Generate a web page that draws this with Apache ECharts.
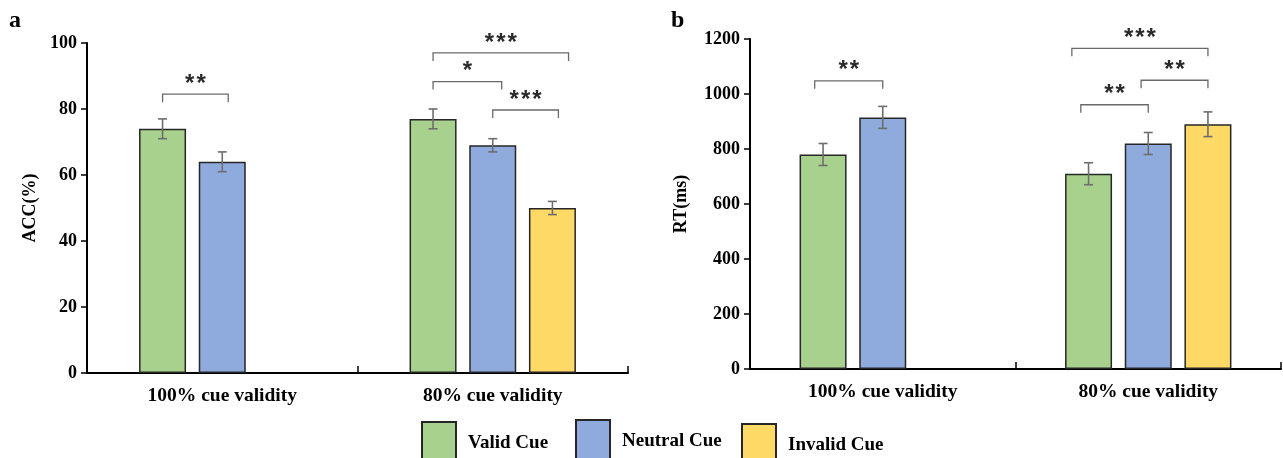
<!DOCTYPE html>
<html>
<head>
<meta charset="utf-8">
<script src="https://cdn.jsdelivr.net/npm/echarts@6/dist/echarts.min.js"></script>
<style>html,body{margin:0;padding:0;background:#fff}#c{width:1283px;height:458px}</style>
</head>
<body>
<div id="c"></div>
<script>
// ---------- data ----------
const categories = ['100% cue validity', '80% cue validity'];
const seriesNames = ['Valid Cue', 'Neutral Cue', 'Invalid Cue'];

const accValid = [74, 77];
const accNeutral = [64, 69];
const accInvalid = [null, 50];
const accValidErr = [3, 3];
const accNeutralErr = [3, 2];
const accInvalidErr = [null, 2];

const rtValid = [780, 710];
const rtNeutral = [915, 820];
const rtInvalid = [null, 890];
const rtValidErr = [40, 40];
const rtNeutralErr = [40, 40];
const rtInvalidErr = [null, 45];

const accTicks = [0, 20, 40, 60, 80, 100];
const rtTicks = [0, 200, 400, 600, 800, 1000, 1200];

// significance brackets: [category, fromBar, toBar, yValue, label]
const accBrackets = [
  [0, 0, 1.1, 84.5, '**'],
  [1, 0, 2.27, 97, '***'],
  [1, 0, 1.15, 88.3, '*'],
  [1, 1, 2.1, 79.7, '***']
];
const rtBrackets = [
  [0, -0.14, 1.0, 1048, '**'],
  [1, -0.28, 2.0, 1166, '***'],
  [1, 0.88, 2.0, 1050, '**'],
  [1, -0.13, 1.0, 961, '**']
];

// ---------- style ----------
const colors = ['#A9D18E', '#8FAADC', '#FFD966'];
const BAR_W = 47;
const GAP_PCT = 27;
const SLOT = BAR_W * (1 + GAP_PCT / 100);
const serif = '"Liberation Serif", "Times New Roman", serif';

function toSeries(arr) { return arr.map(v => v == null ? '-' : v); }

function errData(vals, errs) {
  const out = [];
  vals.forEach((arr, s) => arr.forEach((v, i) => {
    if (v != null) out.push([i, v, errs[s][i], s]);
  }));
  return out;
}

function errRender(params, api) {
  const cat = api.value(0), v = api.value(1), e = api.value(2), s = api.value(3);
  const c = api.coord([cat, v]);
  const x = c[0] + (s - 1) * SLOT;
  const yt = api.coord([cat, v + e])[1];
  const yb = api.coord([cat, v - e])[1];
  const st = { stroke: '#6e6e6e', lineWidth: 1.6 };
  const h = 4.5;
  return {
    type: 'group',
    children: [
      { type: 'line', shape: { x1: x, y1: yt, x2: x, y2: yb }, style: st },
      { type: 'line', shape: { x1: x - h, y1: yt, x2: x + h, y2: yt }, style: st },
      { type: 'line', shape: { x1: x - h, y1: yb, x2: x + h, y2: yb }, style: st }
    ]
  };
}

function bracketRender(list) {
  return function (params, api) {
    const b = list[params.dataIndex];
    const c = api.coord([b[0], b[3]]);
    const x1 = c[0] + (b[1] - 1) * SLOT;
    const x2 = c[0] + (b[2] - 1) * SLOT;
    const y = c[1];
    const leg = 8;
    const text = b[4].split('').join('\u200A');
    return {
      type: 'group',
      children: [
        { type: 'polyline', shape: { points: [[x1, y + leg], [x1, y], [x2, y], [x2, y + leg]] },
          style: { stroke: '#6a6a6a', lineWidth: 1.3, fill: null } },
        { type: 'text', x: (x1 + x2) / 2, y: y + 2,
          style: { text: text, font: 'bold 24px "Liberation Sans", Arial, sans-serif', fill: '#2a2a2a',
                   align: 'center', verticalAlign: 'bottom' } }
      ]
    };
  };
}

function yAxis(gridIndex, ticks, name, nameGap) {
  return {
    type: 'value', gridIndex: gridIndex,
    min: ticks[0], max: ticks[ticks.length - 1], interval: ticks[1] - ticks[0],
    name: name, nameLocation: 'middle', nameGap: nameGap, nameRotate: 90,
    nameTextStyle: { fontFamily: serif, fontWeight: 'bold', fontSize: 18, color: '#000' },
    axisLine: { show: true, lineStyle: { color: '#000', width: 2 } },
    axisTick: { show: true, length: 6, lineStyle: { color: '#000', width: 1.5 } },
    axisLabel: { fontFamily: serif, fontWeight: 'bold', fontSize: 18, color: '#000', margin: 10,
                 formatter: v => String(v) },
    splitLine: { show: false }
  };
}

function xAxis(gridIndex) {
  return {
    type: 'category', gridIndex: gridIndex, data: categories,
    axisLine: { show: true, lineStyle: { color: '#000', width: 2 } },
    axisTick: { show: true, inside: true, length: 7, lineStyle: { color: '#000', width: 1.5 } },
    axisLabel: { fontFamily: serif, fontWeight: 'bold', fontSize: 19.5, color: '#000', margin: 13 }
  };
}

function barSeries(name, data, idx, color) {
  return {
    type: 'bar', name: name, xAxisIndex: idx, yAxisIndex: idx,
    data: toSeries(data), barWidth: BAR_W, barGap: GAP_PCT + '%',
    itemStyle: { color: color, borderColor: '#262626', borderWidth: 1.5 },
    emphasis: { disabled: true }, z: 2
  };
}

function legend(name, left, top) {
  return {
    data: [name], left: left, top: top, icon: 'rect', padding: 0,
    itemWidth: 34, itemHeight: 42, selectedMode: false,
    textStyle: { fontFamily: serif, fontWeight: 'bold', fontSize: 19, color: '#000', padding: [0, 0, 0, 7] }
  };
}

const chart = echarts.init(document.getElementById('c'));
chart.setOption({
  animation: false,
  backgroundColor: '#fff',
  grid: [
    { left: 87, top: 43, width: 541, height: 330 },
    { left: 750, top: 39, width: 531, height: 330 }
  ],
  xAxis: [xAxis(0), xAxis(1)],
  yAxis: [yAxis(0, accTicks, 'ACC(%)', 48), yAxis(1, rtTicks, 'RT(ms)', 60)],
  legend: [
    legend(seriesNames[0], 421, 421),
    legend(seriesNames[1], 575, 419),
    legend(seriesNames[2], 741, 423)
  ],
  graphic: [
    { type: 'text', left: 9, top: 9, style: { text: 'a', font: 'bold 24px ' + serif, fill: '#000' } },
    { type: 'text', left: 671, top: 9, style: { text: 'b', font: 'bold 24px ' + serif, fill: '#000' } }
  ],
  series: [
    barSeries(seriesNames[0], accValid, 0, colors[0]),
    barSeries(seriesNames[1], accNeutral, 0, colors[1]),
    barSeries(seriesNames[2], accInvalid, 0, colors[2]),
    barSeries(seriesNames[0], rtValid, 1, colors[0]),
    barSeries(seriesNames[1], rtNeutral, 1, colors[1]),
    barSeries(seriesNames[2], rtInvalid, 1, colors[2]),
    { type: 'custom', name: 'accErr', xAxisIndex: 0, yAxisIndex: 0, clip: false, z: 5,
      data: errData([accValid, accNeutral, accInvalid], [accValidErr, accNeutralErr, accInvalidErr]),
      renderItem: errRender },
    { type: 'custom', name: 'rtErr', xAxisIndex: 1, yAxisIndex: 1, clip: false, z: 5,
      data: errData([rtValid, rtNeutral, rtInvalid], [rtValidErr, rtNeutralErr, rtInvalidErr]),
      renderItem: errRender },
    { type: 'custom', name: 'accSig', xAxisIndex: 0, yAxisIndex: 0, clip: false, z: 5,
      data: accBrackets.map(b => [b[0], b[3]]), renderItem: bracketRender(accBrackets) },
    { type: 'custom', name: 'rtSig', xAxisIndex: 1, yAxisIndex: 1, clip: false, z: 5,
      data: rtBrackets.map(b => [b[0], b[3]]), renderItem: bracketRender(rtBrackets) }
  ]
});
</script>
</body>
</html>
